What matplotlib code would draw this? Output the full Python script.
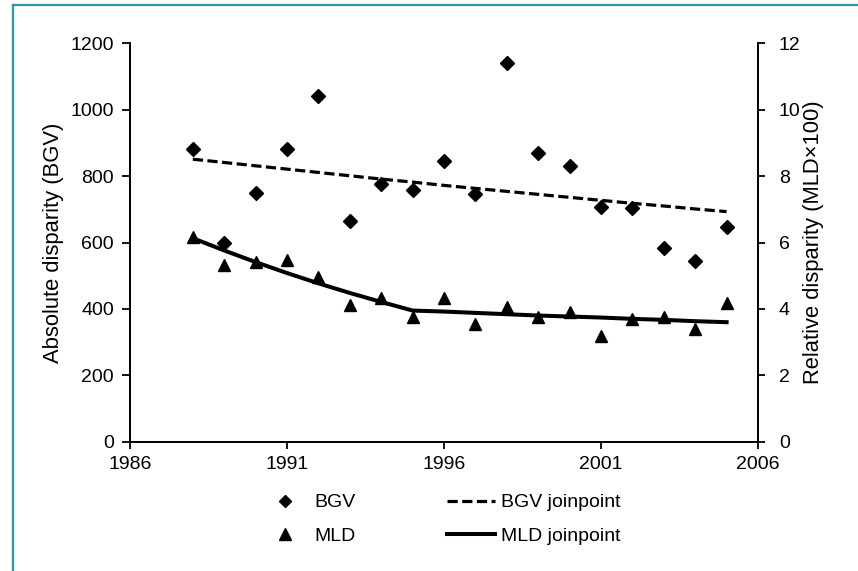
import matplotlib
matplotlib.use('Agg')
import matplotlib.pyplot as plt
from matplotlib.lines import Line2D

plt.rcParams['font.family'] = ['Liberation Sans', 'DejaVu Sans']
plt.rcParams['font.size'] = 14

years = list(range(1988, 2006))
bgv = [882, 597, 748, 881, 1041, 665, 775, 758, 846, 745,
       1140, 869, 831, 708, 703, 583, 544, 646]
mld = [6.17, 5.32, 5.42, 5.47, 4.97, 4.12, 4.32, 3.76, 4.32, 3.54,
       4.05, 3.76, 3.92, 3.18, 3.70, 3.76, 3.39, 4.17]
# fitted joinpoint values
bgv_fit = [851, 841, 831, 821, 811, 801, 791, 782, 772, 763,
           754, 745, 736, 727, 718, 710, 701, 693]
mld_fit = [6.13, 5.76, 5.41, 5.08, 4.77, 4.48, 4.21, 3.95, 3.92, 3.88,
           3.84, 3.80, 3.77, 3.74, 3.70, 3.67, 3.63, 3.60]

W, H = 858, 571
fig = plt.figure(figsize=(W / 100, H / 100), dpi=100)
ax = fig.add_axes([130 / W, 1 - 441.7 / H, 628 / W, 398.4 / H])
ax2 = ax.twinx()

ax.plot(years, bgv, 'D', color='black', ms=7, zorder=3)
ax.plot(years, bgv_fit, color='black', lw=2.3, dashes=(3.2, 1.4), zorder=2)
ax2.plot(years, mld, '^', color='black', ms=9, zorder=3)
ax2.plot(years, mld_fit, color='black', lw=2.9, zorder=2)

ax.set_xlim(1986, 2006)
ax.set_xticks(range(1986, 2007, 5))
ax.set_ylim(0, 1200)
ax.set_yticks(range(0, 1201, 200))
ax2.set_ylim(0, 12)
ax2.set_yticks(range(0, 13, 2))

for a in (ax, ax2):
    a.spines['top'].set_visible(False)
    for s in a.spines.values():
        s.set_linewidth(1.3)
ax.tick_params(axis='y', direction='out', length=6, width=1.3, pad=5.5)
ax.tick_params(axis='x', direction='out', length=5, width=1.3, pad=5.5)
ax2.tick_params(axis='y', direction='out', length=5, width=1.3, pad=10)

ax.set_ylabel('Absolute disparity (BGV)', fontsize=15.8, labelpad=5)
ax2.set_ylabel('Relative disparity (MLD\u00d7100)', fontsize=15.8, labelpad=2)

handles = [
    Line2D([], [], ls='none', marker='D', color='black', ms=6),
    Line2D([], [], ls='none', marker='^', color='black', ms=8),
    Line2D([], [], color='black', lw=2.3, dashes=(3.2, 1.4)),
    Line2D([], [], color='black', lw=2.9),
]
labels = ['BGV', 'MLD', 'BGV joinpoint', 'MLD joinpoint']
fig.legend(handles, labels, loc='upper left', bbox_to_anchor=(251 / W, 1 - 484 / H),
           ncol=2, frameon=False, borderpad=0, handlelength=2.47,
           handletextpad=0.3, columnspacing=4.7, labelspacing=0.84)

# teal frame edges visible in the source
teal = '#2a98a8'
fig.add_artist(Line2D([13 / W, 13 / W], [0, 1 - 5 / H], color=teal, lw=1.6))
fig.add_artist(Line2D([13 / W, 1], [1 - 5 / H, 1 - 5 / H], color=teal, lw=1.6))

fig.savefig('out.png', dpi=100)
